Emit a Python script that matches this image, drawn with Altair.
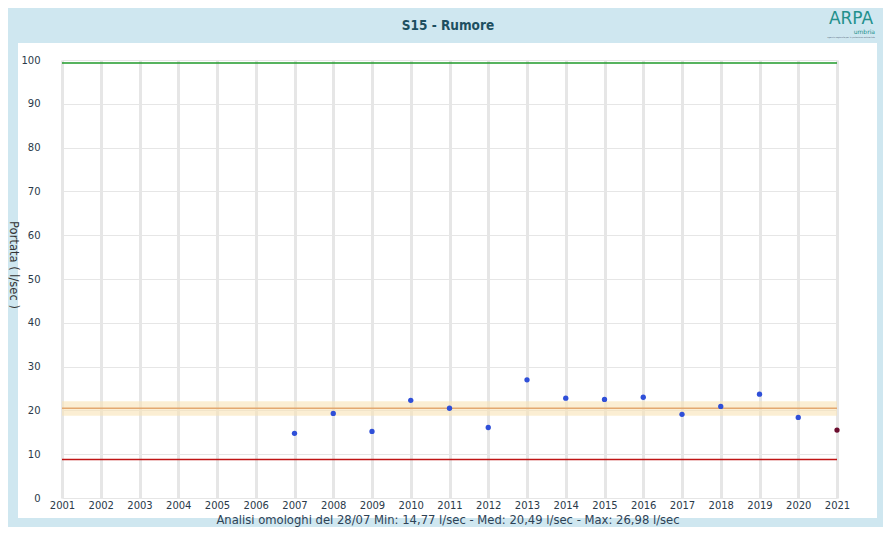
import altair as alt
import pandas as pd

# ---- data ----
years = [2007, 2008, 2009, 2010, 2011, 2012, 2013, 2014, 2015, 2016, 2017, 2018, 2019, 2020, 2021]
portata = [14.77, 19.3, 15.2, 22.3, 20.49, 16.1, 26.98, 22.8, 22.5, 23.0, 19.1, 20.9, 23.7, 18.4, 15.5]

x_ticks = list(range(2001, 2022))
y_ticks = [0, 10, 20, 30, 40, 50, 60, 70, 80, 90, 100]

median_value = 20.49
band_low, band_high = 18.8, 22.1
upper_limit = 99.3
lower_limit = 8.8
x_start, x_end = 2001, 2021

title_text = "S15 - Rumore"
footer_text = "Analisi omologhi del 28/07   Min: 14,77 l/sec - Med: 20,49 l/sec - Max: 26,98 l/sec"
y_title = "Portata ( l/sec )"

pts = pd.DataFrame({"x": years[:-1], "y": portata[:-1]})
last = pd.DataFrame({"x": years[-1:], "y": portata[-1:]})
band = pd.DataFrame({"x": [x_start], "x2": [x_end], "y": [band_low], "y2": [band_high]})
med = pd.DataFrame({"x": [x_start], "x2": [x_end], "y": [median_value]})
upper = pd.DataFrame({"x": [x_start], "x2": [x_end], "y": [upper_limit]})
lower = pd.DataFrame({"x": [x_start], "x2": [x_end], "y": [lower_limit]})
one = pd.DataFrame({"a": [0]})

W, H = 775, 438
FONT = "DejaVu Sans"
BLUE = "#cfe7f0"

xscale = alt.Scale(domain=[x_start, x_end], nice=False, zero=False)
yscale = alt.Scale(domain=[0, 100], nice=False)

x_axis = alt.Axis(values=x_ticks, format="d", title=None, grid=True,
                  labelOverlap=False, gridColor="#e6e6e6", gridWidth=3,
                  domain=False, ticks=False, labelFont=FONT, labelFontSize=10,
                  labelColor="#2a3a4a", labelPadding=2, labelFlush=False)
y_axis = alt.Axis(values=y_ticks, title=None, grid=True, gridColor="#e6e6e6",
                  labelOverlap=False, gridWidth=1, domain=False, ticks=False,
                  labelFont=FONT, labelFontSize=10, labelColor="#2a3a4a",
                  labelPadding=22)

X = alt.X("x:Q", scale=xscale, axis=x_axis)
Y = alt.Y("y:Q", scale=yscale, axis=y_axis)


def strip(x1, x2, y1, y2):
    return alt.Chart(one).mark_rect(color=BLUE, clip=False).encode(
        x=alt.value(x1), x2=alt.value(x2), y=alt.value(y1), y2=alt.value(y2)
    )


frame = [
    strip(-54, 821, -52, -17),   # top band with title
    strip(-54, -44, -17, 467),   # left
    strip(815, 821, -17, 467),   # right
    strip(-54, 821, 458, 467),   # bottom with footer
]

band_layer = alt.Chart(band).mark_rect(color="#f9e3b5", opacity=0.6).encode(
    x=X, x2="x2:Q", y=Y, y2="y2:Q",
)


def hrule(df, color):
    return alt.Chart(df).mark_rule(strokeWidth=1.5, color=color).encode(
        x=X, x2="x2:Q", y=Y,
    )


def dots(df, color):
    return alt.Chart(df).mark_circle(size=28, opacity=1, color=color).encode(x=X, y=Y)


title_layer = alt.Chart(one).mark_text(
    text=title_text, font="DejaVu Sans Condensed", fontSize=13.5, fontWeight="bold",
    color="#1d4f60", align="center", baseline="middle", clip=False
).encode(x=alt.value(386), y=alt.value(-34))

ytitle_layer = alt.Chart(one).mark_text(
    text=y_title, font=FONT, fontSize=11.5, color="#333333", angle=90,
    align="center", baseline="middle", clip=False
).encode(x=alt.value(-49), y=alt.value(205))

footer_layer = alt.Chart(one).mark_text(
    text=footer_text, font=FONT, fontSize=11.6, color="#2e4255",
    align="center", baseline="alphabetic", clip=False
).encode(x=alt.value(386), y=alt.value(464))

logo_layer = alt.Chart(one).mark_text(
    text="ARPA", font=FONT, fontSize=17, fontWeight="normal", color="#22908c",
    align="center", baseline="middle", clip=False
).encode(x=alt.value(789), y=alt.value(-41))

logo_sub = alt.Chart(one).mark_text(
    text="umbria", font=FONT, fontSize=6, color="#22908c",
    align="right", baseline="middle", clip=False
).encode(x=alt.value(813), y=alt.value(-28))

logo_line = alt.Chart(one).mark_text(
    text="agenzia regionale per la protezione ambientale", font=FONT, fontSize=2,
    color="#556677", align="center", baseline="middle", clip=False
).encode(x=alt.value(789), y=alt.value(-23))

chart = alt.layer(
    *frame, band_layer,
    hrule(med, "#e3a870"), hrule(upper, "#1f9a2a"), hrule(lower, "#c01515"),
    dots(pts, "#2f4fd8"), dots(last, "#6b0d2e"),
    title_layer, ytitle_layer, footer_layer, logo_layer, logo_sub, logo_line
).properties(
    width=W, height=H,
    autosize=alt.AutoSizeParams(type="none"),
    padding={"left": 54, "top": 52, "right": 46, "bottom": 29},
    background="white",
).configure_view(stroke=None)

chart.save("out.html", embed_options={"renderer": "svg", "actions": False})
